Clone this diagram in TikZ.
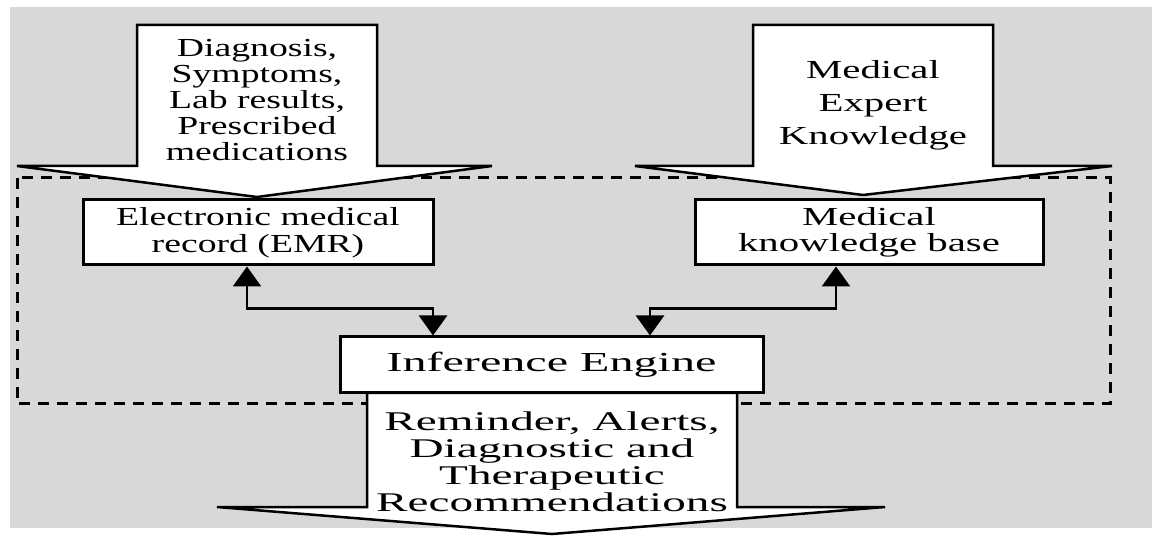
\documentclass[tikz,border=0pt]{standalone}
\usepackage{fontspec}
\setmainfont{Liberation Serif}
\newfontfamily\narrowface{Liberation Serif}[FakeStretch=1.45]
\newfontfamily\midface{Liberation Serif}[FakeStretch=1.57]
\newfontfamily\wideface{Liberation Serif}[FakeStretch=1.75]
\usepackage{tikz}
\usetikzlibrary{arrows.meta, positioning}
\definecolor{panel}{RGB}{216,216,216}
\tikzstyle{box}=[rectangle, draw=black, fill=white, line width=3pt, inner sep=0pt, align=center]
\tikzstyle{bigarrow}=[draw=black, fill=white, line width=2.5pt, line join=miter]
\tikzstyle{arrowtext}=[inner sep=0pt, align=center]
\tikzstyle{link}=[line width=2.5pt, {Triangle[length=20pt,width=28pt]}-{Triangle[length=20pt,width=28pt]}]

\begin{document}
\begin{tikzpicture}[x=1pt, y=1pt]
        \useasboundingbox (0,0) rectangle (1152,536);
        \fill[white] (0,0) rectangle (1152,536);
        \fill[panel] (10,8) rectangle (1152,529);

        % system boundary
        \draw[line width=3pt, dash pattern=on 11pt off 8pt] (17,358) rectangle (1110,132);

        % input and output arrows
        \draw[bigarrow] (137,511) -- (377,511) -- (377,370) -- (492,370) -- (257,339)
                        -- (17,370) -- (137,370) -- cycle;
        \draw[bigarrow] (753,511) -- (993,511) -- (993,370) -- (1112,370) -- (863,341)
                        -- (635,370) -- (753,370) -- cycle;
        \draw[bigarrow] (367,143) -- (367,29) -- (217,29) -- (552,2) -- (885,29)
                        -- (737,29) -- (737,143) -- cycle;

        \node[arrowtext, font=\narrowface\fontsize{26}{26}\selectfont] (inputs) at (257,436)
              {Diagnosis,\\Symptoms,\\Lab results,\\Prescribed\\medications};
        \node[arrowtext, font=\midface\fontsize{26}{33}\selectfont] (expert) at (873,431)
              {Medical\\Expert\\Knowledge};
        \node[arrowtext, font=\wideface\fontsize{27}{27}\selectfont] (advice) at (552,74)
              {Reminder, Alerts,\\Diagnostic and\\Therapeutic\\Recommendations};

        % components
        \node[box, minimum width=350pt, minimum height=65pt,
              font=\narrowface\fontsize{26}{27}\selectfont] (emr) at (258,303.5)
              {Electronic medical\\record (EMR)};
        \node[box, minimum width=348pt, minimum height=65pt,
              font=\midface\fontsize{26}{26}\selectfont] (kb) [right=259pt of emr]
              {Medical\\knowledge base};
        \node[box, minimum width=423pt, minimum height=56pt,
              font=\wideface\fontsize{27.5}{27.5}\selectfont] (ie) at (551.5,171)
              {Inference Engine};

        \draw[link] ([xshift=-11pt]emr.south) |- ([xshift=-118.5pt, yshift=27pt]ie.north)
                    -- ([xshift=-118.5pt]ie.north);
        \draw[link] ([xshift=-33pt]kb.south) |- ([xshift=98.5pt, yshift=27pt]ie.north)
                    -- ([xshift=98.5pt]ie.north);
\end{tikzpicture}
\end{document}
